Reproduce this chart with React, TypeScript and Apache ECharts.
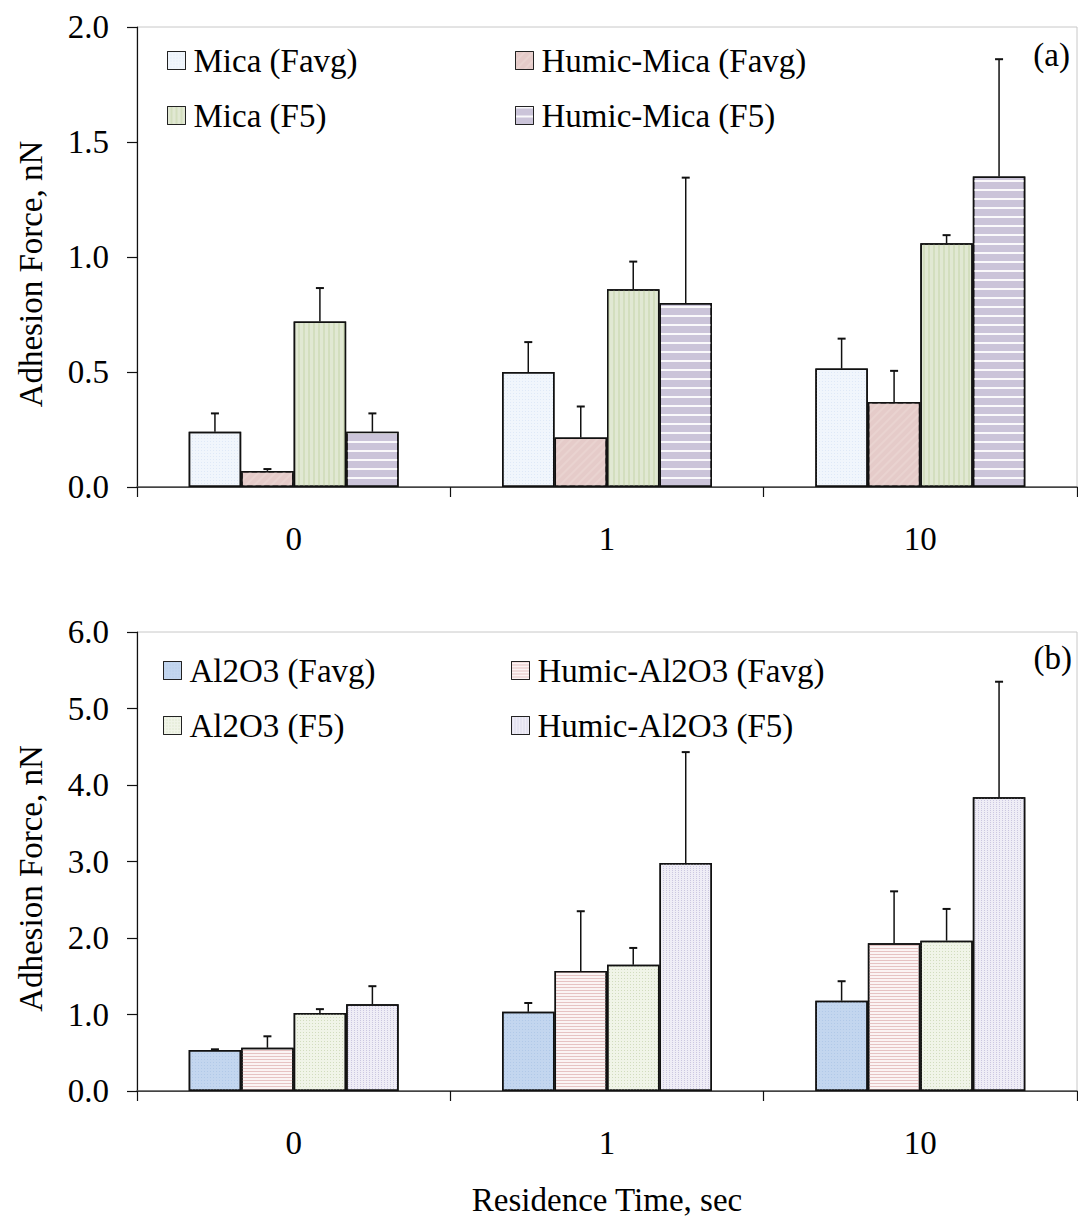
import React, { useEffect, useRef } from "react";
import * as echarts from "echarts";

const categories = ["0", "1", "10"];

// Panel (a)
const micaFavg = [0.24, 0.5, 0.515];
const micaFavgErr = [0.08, 0.13, 0.13];
const humicMicaFavg = [0.07, 0.215, 0.37];
const humicMicaFavgErr = [0.008, 0.135, 0.135];
const micaF5 = [0.72, 0.86, 1.06];
const micaF5Err = [0.145, 0.12, 0.035];
const humicMicaF5 = [0.24, 0.8, 1.35];
const humicMicaF5Err = [0.08, 0.545, 0.51];

// Panel (b)
const al2o3Favg = [0.535, 1.035, 1.18];
const al2o3FavgErr = [0.01, 0.115, 0.255];
const humicAl2o3Favg = [0.565, 1.57, 1.93];
const humicAl2o3FavgErr = [0.15, 0.78, 0.68];
const al2o3F5 = [1.02, 1.65, 1.965];
const al2o3F5Err = [0.05, 0.22, 0.415];
const humicAl2o3F5 = [1.135, 2.98, 3.84];
const humicAl2o3F5Err = [0.235, 1.45, 1.51];

const FONT = '"Liberation Serif", "Times New Roman", serif';
const FS = 33;
const GAP = 0.33;

type S = {
  name: string;
  values: number[];
  err: number[];
  color: string;
  decal: any;
};

const panelA: S[] = [
  {
    name: "Mica (Favg)",
    values: micaFavg,
    err: micaFavgErr,
    color: "#f1f6fc",
    decal: { symbol: "rect", symbolSize: 1, dashArrayX: [1, 2], dashArrayY: [1, 2], color: "rgba(215,228,245,0.7)" },
  },
  {
    name: "Humic-Mica (Favg)",
    values: humicMicaFavg,
    err: humicMicaFavgErr,
    color: "#e5cbc9",
    decal: { symbol: "rect", symbolSize: 1, dashArrayX: [1, 0], dashArrayY: [2, 4], rotation: -Math.PI / 4, color: "rgba(236,214,212,0.7)" },
  },
  {
    name: "Mica (F5)",
    values: micaF5,
    err: micaF5Err,
    color: "#e1e8d3",
    decal: { symbol: "rect", symbolSize: 1, dashArrayX: [1, 0], dashArrayY: [2, 3], rotation: Math.PI / 2, color: "rgba(205,218,182,0.7)" },
  },
  {
    name: "Humic-Mica (F5)",
    values: humicMicaF5,
    err: humicMicaF5Err,
    color: "#cbc4d9",
    decal: { symbol: "rect", symbolSize: 1, dashArrayX: [1, 0], dashArrayY: [2, 7], color: "rgba(255,255,255,0.9)" },
  },
];

const panelB: S[] = [
  {
    name: "Al2O3 (Favg)",
    values: al2o3Favg,
    err: al2o3FavgErr,
    color: "#c3d6ef",
    decal: { symbol: "rect", symbolSize: 1, dashArrayX: [1, 2], dashArrayY: [1, 2], color: "rgba(170,195,230,0.7)" },
  },
  {
    name: "Humic-Al2O3 (Favg)",
    values: humicAl2o3Favg,
    err: humicAl2o3FavgErr,
    color: "#fbf4f4",
    decal: { symbol: "rect", symbolSize: 1, dashArrayX: [1, 0], dashArrayY: [1, 2], color: "rgba(228,190,190,0.9)" },
  },
  {
    name: "Al2O3 (F5)",
    values: al2o3F5,
    err: al2o3F5Err,
    color: "#f0f4e8",
    decal: { symbol: "rect", symbolSize: 1, dashArrayX: [1, 2], dashArrayY: [1, 2], color: "rgba(205,218,185,0.9)" },
  },
  {
    name: "Humic-Al2O3 (F5)",
    values: humicAl2o3F5,
    err: humicAl2o3F5Err,
    color: "#efedf6",
    decal: { symbol: "rect", symbolSize: 1, dashArrayX: [1, 2], dashArrayY: [1, 1], color: "rgba(200,195,222,0.9)" },
  },
];

function buildSeries(list: S[], gi: number) {
  const out: any[] = [];
  list.forEach((s) => {
    out.push({
      type: "bar",
      name: s.name,
      xAxisIndex: gi,
      yAxisIndex: gi,
      data: s.values,
      barGap: "0%",
      barCategoryGap: GAP * 100 + "%",
      itemStyle: { color: s.color, borderColor: "#111", borderWidth: 1.5, decal: s.decal },
      emphasis: { disabled: true },
      z: 2,
    });
  });
  list.forEach((s, k) => {
    out.push({
      type: "custom",
      name: "err-" + s.name,
      xAxisIndex: gi,
      yAxisIndex: gi,
      z: 3,
      encode: { x: 0, y: 1 },
      data: s.values.map((v, i) => [i, v, s.err[i]]),
      renderItem: (params: any, api: any) => {
        const cat = api.value(0);
        const v = api.value(1);
        const e = api.value(2);
        const c = api.coord([cat, v]);
        const t = api.coord([cat, v + e]);
        const cw = api.size([1, 0])[0];
        const bw = (cw * (1 - GAP)) / 4;
        const x = c[0] + (k - 1.5) * bw;
        return {
          type: "group",
          children: [
            { type: "line", shape: { x1: x, y1: c[1], x2: x, y2: t[1] }, style: { stroke: "#111", lineWidth: 1.5 } },
            { type: "line", shape: { x1: x - 4, y1: t[1], x2: x + 4, y2: t[1] }, style: { stroke: "#111", lineWidth: 2 } },
          ],
        };
      },
    });
  });
  return out;
}

function legends(list: S[], lefts: number[], tops: number[]) {
  return list.map((s, i) => ({
    data: [{ name: s.name, icon: "rect" }],
    left: lefts[i % 2],
    top: tops[Math.floor(i / 2)],
    padding: 0,
    itemWidth: 18,
    itemHeight: 18,
    itemGap: 0,
    selectedMode: false,
    itemStyle: { borderColor: "#222", borderWidth: 1 },
    textStyle: { fontFamily: FONT, fontSize: FS, color: "#000", padding: [0, 0, 0, 3] },
  }));
}

const yAxisBase = (gi: number, max: number, interval: number) => ({
  type: "value",
  gridIndex: gi,
  min: 0,
  max,
  interval,
  name: "Adhesion Force, nN",
  nameLocation: "middle",
  nameGap: 90,
  nameRotate: 90,
  nameTextStyle: { fontFamily: FONT, fontSize: FS, color: "#000", padding: [0, 34, 0, 0] },
  axisLine: { show: true, lineStyle: { color: "#111", width: 1.2 } },
  axisTick: { show: true, length: 10, inside: false, lineStyle: { color: "#111", width: 1.2 } },
  axisLabel: { fontFamily: FONT, fontSize: FS, color: "#000", margin: 28, formatter: (v: number) => v.toFixed(1) },
  splitLine: { show: false },
});

const xAxisBase = (gi: number) => ({
  type: "category",
  gridIndex: gi,
  data: categories,
  axisLine: { show: true, onZero: false, lineStyle: { color: "#111", width: 1.2 } },
  axisTick: { show: true, length: 10, alignWithLabel: false, lineStyle: { color: "#111", width: 1.2 } },
  axisLabel: { fontFamily: FONT, fontSize: FS, color: "#000", margin: 35 },
  splitLine: { show: false },
});

const xTop = (gi: number) => ({
  type: "category",
  gridIndex: gi,
  position: "top",
  data: categories,
  axisLine: { show: true, lineStyle: { color: "#555", width: 1.5 } },
  axisTick: { show: false },
  axisLabel: { show: false },
});

export default function App() {
  const ref = useRef<HTMLDivElement>(null);
  useEffect(() => {
    if (!ref.current) return;
    const chart = echarts.init(ref.current, undefined, { renderer: "svg" });
    const option: any = {
      animation: false,
      backgroundColor: "#fff",
      textStyle: { fontFamily: FONT },
      title: [
        { text: "(a)", right: 8, top: 38, padding: 0, textStyle: { fontFamily: FONT, fontSize: FS, fontWeight: "normal", color: "#000" } },
        { text: "(b)", right: 6, top: 641, padding: 0, textStyle: { fontFamily: FONT, fontSize: FS, fontWeight: "normal", color: "#000" } },
      ],
      legend: [...legends(panelA, [167, 515], [44, 99]), ...legends(panelB, [163, 511], [654, 709])],
      grid: [
        { left: 137, top: 27, right: 1, height: 460, show: true, borderColor: "#c8c8c8", borderWidth: 1, containLabel: false },
        { left: 137, top: 632, right: 1, height: 459, show: true, borderColor: "#c8c8c8", borderWidth: 1, containLabel: false },
      ],
      xAxis: [
        xAxisBase(0),
        {
          ...xAxisBase(1),
          name: "Residence Time, sec",
          nameLocation: "middle",
          nameGap: 92,
          nameTextStyle: { fontFamily: FONT, fontSize: FS, color: "#000" },
        },
        xTop(0),
        xTop(1),
      ],
      yAxis: [yAxisBase(0, 2, 0.5), yAxisBase(1, 6, 1)],
      series: [...buildSeries(panelA, 0), ...buildSeries(panelB, 1)],
    };
    chart.setOption(option);
    return () => chart.dispose();
  }, []);
  return (
    <div
      ref={ref}
      style={{ position: "fixed", left: 0, top: 0, width: 1078, height: 1226, background: "#fff" }}
    />
  );
}
